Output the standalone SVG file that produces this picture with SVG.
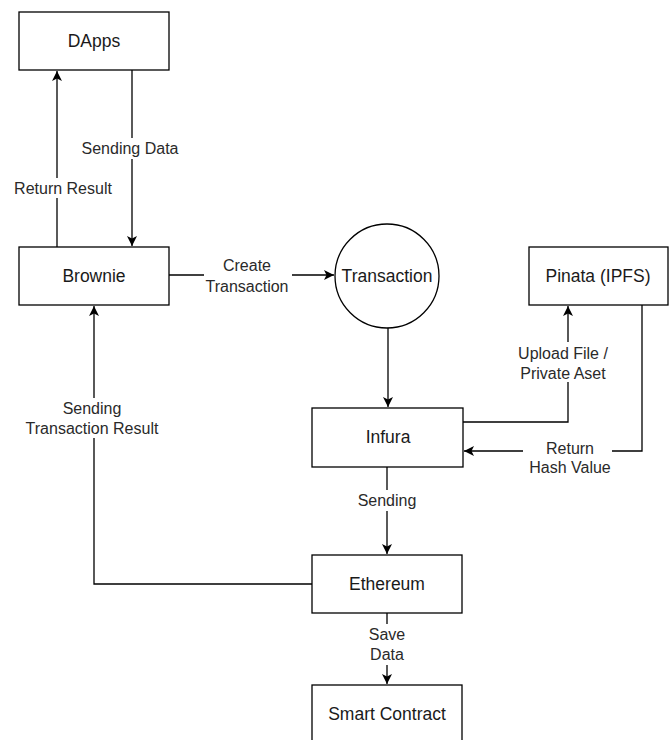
<svg xmlns="http://www.w3.org/2000/svg" width="669" height="740" viewBox="0 0 669 740">
<defs>
<style>
.box{fill:#fff;stroke:#000;stroke-width:1.3}
.nt{font-family:"Liberation Sans",Arial,sans-serif;font-size:17.5px;fill:#1a1a1a;text-anchor:middle;dominant-baseline:central}
.lt{font-family:"Liberation Sans",Arial,sans-serif;font-size:16px;fill:#2a2a2a;text-anchor:middle;dominant-baseline:central}
.ln{fill:none;stroke:#000;stroke-width:1.3}
.bg{fill:#fff}
</style>
<marker id="ah" markerWidth="12" markerHeight="12" refX="10" refY="5" orient="auto" markerUnits="userSpaceOnUse">
<path d="M0,0 L10,5 L0,10 L2.5,5 Z" fill="#000"/>
</marker>
</defs>
<rect width="669" height="740" fill="#fff"/>
<g id="connectors">
<path class="ln" d="M57,247 V71" marker-end="url(#ah)"/>
<path class="ln" d="M132,70 V246" marker-end="url(#ah)"/>
<path class="ln" d="M169,275 H334" marker-end="url(#ah)"/>
<path class="ln" d="M388,328 V407" marker-end="url(#ah)"/>
<path class="ln" d="M463,422 H568 V306" marker-end="url(#ah)"/>
<path class="ln" d="M642,305 V451 H464" marker-end="url(#ah)"/>
<path class="ln" d="M387,467 V554" marker-end="url(#ah)"/>
<path class="ln" d="M312,584 H94 V306" marker-end="url(#ah)"/>
<path class="ln" d="M387,613 V684" marker-end="url(#ah)"/>
<rect class="bg" x="80" y="138" width="100" height="21"/>
<text class="lt" x="130" y="148">Sending Data</text>
<rect class="bg" x="13" y="178" width="101" height="20"/>
<text class="lt" x="63" y="188">Return Result</text>
<rect class="bg" x="204" y="256" width="88" height="40"/>
<text class="lt" x="247" y="265">Create</text>
<text class="lt" x="247" y="286">Transaction</text>
<rect class="bg" x="517" y="342" width="93" height="40"/>
<text class="lt" x="563" y="353">Upload File /</text>
<text class="lt" x="563" y="373">Private Aset</text>
<rect class="bg" x="523" y="438" width="89" height="40"/>
<text class="lt" x="570" y="448">Return</text>
<text class="lt" x="570" y="467">Hash Value</text>
<rect class="bg" x="22" y="398" width="140" height="40"/>
<text class="lt" x="92" y="408">Sending</text>
<text class="lt" x="92" y="428">Transaction Result</text>
<rect class="bg" x="356" y="490" width="62" height="21"/>
<text class="lt" x="387" y="500">Sending</text>
<rect class="bg" x="366" y="624" width="42" height="41"/>
<text class="lt" x="387" y="634">Save</text>
<text class="lt" x="387" y="654">Data</text>
</g>
<g id="dapps">
<rect class="box" x="19" y="12" width="150" height="58"/>
<text class="nt" x="94" y="41">DApps</text>
</g>
<g id="brownie">
<rect class="box" x="19" y="247" width="150" height="58"/>
<text class="nt" x="94" y="276">Brownie</text>
</g>
<g id="transaction">
<circle class="box" cx="387" cy="276" r="52"/>
<text class="nt" x="387" y="276">Transaction</text>
</g>
<g id="pinata">
<rect class="box" x="529" y="247" width="139" height="58"/>
<text class="nt" x="598" y="276">Pinata (IPFS)</text>
</g>
<g id="infura">
<rect class="box" x="312" y="408" width="151" height="59"/>
<text class="nt" x="388" y="437">Infura</text>
</g>
<g id="ethereum">
<rect class="box" x="312" y="555" width="150" height="58"/>
<text class="nt" x="387" y="584">Ethereum</text>
</g>
<g id="smart-contract">
<rect class="box" x="312" y="685" width="150" height="58"/>
<text class="nt" x="387" y="714">Smart Contract</text>
</g>
</svg>
